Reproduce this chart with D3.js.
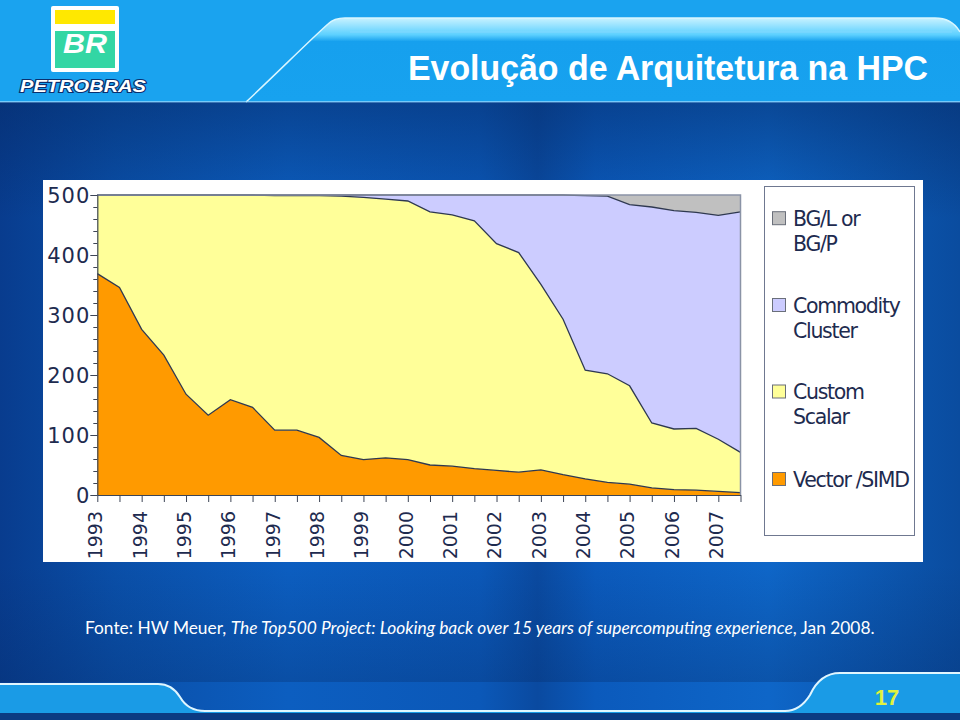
<!DOCTYPE html>
<html><head><meta charset="utf-8">
<script src="https://cdn.jsdelivr.net/npm/d3@7"></script>
<style>html,body{margin:0;padding:0;background:#0a4fa8;} svg{display:block}</style>
</head><body><svg id="c" width="960" height="720"></svg>
<script>
// ---- data (Top500 systems by architecture, June & November lists) ----
const periods = ["1993-06","1993-11","1994-06","1994-11","1995-06","1995-11","1996-06","1996-11",
  "1997-06","1997-11","1998-06","1998-11","1999-06","1999-11","2000-06","2000-11","2001-06","2001-11",
  "2002-06","2002-11","2003-06","2003-11","2004-06","2004-11","2005-06","2005-11","2006-06","2006-11",
  "2007-06","2007-11"];
const yearLabels = ["1993","1994","1995","1996","1997","1998","1999","2000","2001","2002","2003","2004","2005","2006","2007"];
const yTicks = [0,100,200,300,400,500];
const vectorSIMD = [369,346,276,233,168,133,159,146,108,108,96,66,59,62,59,50,48,44,41,38,42,34,27,21,18,12,9,8,6,4];
const customScalar = [131,154,224,267,332,367,341,354,391,391,403,432,437,431,431,422,419,413,378,366,309,259,181,181,164,108,101,103,87,67];
const commodityCluster = [0,0,0,0,0,0,0,0,1,1,1,2,4,7,10,28,33,43,81,96,149,207,291,296,302,360,364,360,373,401];
const bglBgp = [0,0,0,0,0,0,0,0,0,0,0,0,0,0,0,0,0,0,0,0,0,0,1,2,16,20,26,29,34,28];
const seriesKeys = ["vector","custom","commodity","bgl"];
const seriesColors = ["#ff9a00","#ffff99","#ccccff","#c0c0c0"];
const legendLines = [["BG/L or","BG/P"],["Commodity","Cluster"],["Custom","Scalar"],["Vector /SIMD"]];
const legendColors = ["#c0c0c0","#ccccff","#ffff99","#ff9a00"];
const titleText = "Evolução de Arquitetura na HPC";
const pageNumber = "17";

const svg = d3.select("#c");
const defs = svg.append("defs");

// ---- background ----
const bg = defs.append("linearGradient").attr("id","bgH").attr("x1",0).attr("x2",1).attr("y1",0).attr("y2",0);
[[0,"#083c8e"],[0.12,"#0a4fa8"],[0.3,"#0c5ec0"],[0.5,"#0b58b8"],[0.56,"#0a4aa0"],[0.62,"#0b5abc"],[0.8,"#0e66c8"],[1,"#0a4c9f"]]
  .forEach(([o,c])=>bg.append("stop").attr("offset",o).attr("stop-color",c));
svg.append("rect").attr("width",960).attr("height",720).attr("fill","url(#bgH)");
const bgV = defs.append("linearGradient").attr("id","bgV").attr("x1",0).attr("x2",0).attr("y1",0).attr("y2",1);
[[0,"#052a66",0.5],[0.2,"#052a66",0],[0.8,"#052a66",0],[1,"#052a66",0.3]]
  .forEach(([o,c,a])=>bgV.append("stop").attr("offset",o).attr("stop-color",c).attr("stop-opacity",a));
svg.append("rect").attr("y",102).attr("width",960).attr("height",580).attr("fill","url(#bgV)");

// header
svg.append("rect").attr("width",960).attr("height",102).attr("fill","#1aa3ef");
const tabG = defs.append("linearGradient").attr("id","tabG").attr("x1",0).attr("x2",0).attr("y1",0).attr("y2",1);
[[0,"#c8f2ff"],[0.2,"#5cd0ff"],[0.28,"#16a0ee"],[1,"#17a2ef"]]
  .forEach(([o,c])=>tabG.append("stop").attr("offset",o).attr("stop-color",c));
svg.append("path").attr("d","M246,102 C270,80 310,40 328,24 Q334,18 345,18 L935,18 Q952,18 960,32 L960,102 Z")
  .attr("fill","url(#tabG)");
svg.append("path").attr("d","M246,102 C270,80 310,40 328,24 Q334,18 345,18 L935,18 Q952,18 960,32")
  .attr("fill","none").attr("stroke","#d8f6ff").attr("stroke-width",1.5);
svg.append("line").attr("x1",350).attr("x2",952).attr("y1",32).attr("y2",32).attr("stroke","#8fdcff").attr("stroke-width",1).attr("opacity",0.6);
svg.append("rect").attr("y",101).attr("width",960).attr("height",1.5).attr("fill","#9fdcff").attr("opacity",0.7);

// footer band
svg.append("path").attr("d","M0,684 L158,684 Q172,684 180,697 Q188,711 205,711 L785,711 Q800,711 810,695 Q820,673 840,673 L960,673 L960,713 L0,713 Z")
  .attr("fill","#1a9be6");
svg.append("path").attr("d","M0,684 L158,684 Q172,684 180,697 Q188,711 205,711 L785,711 Q800,711 810,695 Q820,673 840,673 L960,673")
  .attr("fill","none").attr("stroke","#e0f6ff").attr("stroke-width",2);
svg.append("rect").attr("y",713).attr("width",960).attr("height",7).attr("fill","#0b3a82");

// logo
const logo = svg.append("g");
logo.append("rect").attr("x",51).attr("y",6).attr("width",68).attr("height",66).attr("rx",2).attr("fill","#ffffff");
logo.append("rect").attr("x",55).attr("y",10).attr("width",60).attr("height",14).attr("fill","#ffe800");
logo.append("rect").attr("x",55).attr("y",31).attr("width",60).attr("height",37).attr("fill","#33d6a4");
logo.append("text").attr("x",63).attr("y",53).attr("font-family","Liberation Sans, Arial, sans-serif")
  .attr("font-weight",900).attr("font-style","italic").attr("font-size",28).attr("fill","#fff")
  .attr("textLength",44).attr("lengthAdjust","spacingAndGlyphs").text("BR");
logo.append("text").attr("x",20).attr("y",92).attr("font-family","Liberation Sans, Arial, sans-serif")
  .attr("font-weight",900).attr("font-style","italic").attr("font-size",17).attr("fill","#fff")
  .attr("stroke","#0a2f6e").attr("stroke-width",2.2).attr("paint-order","stroke")
  .attr("textLength",126).attr("lengthAdjust","spacingAndGlyphs").text("PETROBRAS");

// title
svg.append("text").attr("x",928).attr("y",80).attr("text-anchor","end")
  .attr("font-family","Liberation Sans, Arial, sans-serif").attr("font-weight","bold")
  .attr("font-size",35).attr("fill","#ffffff")
  .attr("textLength",520).attr("lengthAdjust","spacingAndGlyphs").text(titleText);

// ---- chart panel ----
svg.append("rect").attr("x",43).attr("y",180).attr("width",880).attr("height",382).attr("fill","#ffffff");

const x = d3.scalePoint().domain(periods).range([97.3, 740.5]);
const y = d3.scaleLinear().domain([0,500]).range([495,195]);

const rows = periods.map((p,i)=>({period:p, vector:vectorSIMD[i], custom:customScalar[i], commodity:commodityCluster[i], bgl:bglBgp[i]}));
const stacked = d3.stack().keys(seriesKeys)(rows);

const area = d3.area().x(d=>x(d.data.period)).y0(d=>y(d[0])).y1(d=>y(d[1]));
const topLine = d3.line().x(d=>x(d.data.period)).y(d=>y(d[1]));
const plot = svg.append("g");
plot.selectAll("path.a").data(stacked).join("path").attr("class","a")
  .attr("d",area).attr("fill",(d,i)=>seriesColors[i]);
plot.selectAll("path.l").data(stacked.slice(0,3)).join("path").attr("class","l")
  .attr("d",topLine).attr("fill","none").attr("stroke","#2e3850").attr("stroke-width",1.3);

// plot border (top & right)
svg.append("path").attr("d",`M${x(periods[0])},${y(500)} L${x(periods[29])},${y(500)} L${x(periods[29])},${y(0)}`)
  .attr("fill","none").attr("stroke","#8a93a6").attr("stroke-width",1.5);

// y axis
const axisColor = "#3d4556";
const yMinor = svg.append("g").attr("transform",`translate(${x(periods[0])},0)`)
  .call(d3.axisLeft(y).tickValues(d3.range(0,501,20)).tickSize(4).tickFormat(""));
yMinor.select(".domain").remove();
yMinor.selectAll("line").attr("stroke",axisColor);
const yAx = svg.append("g").attr("transform",`translate(${x(periods[0])},0)`)
  .call(d3.axisLeft(y).tickValues(yTicks).tickSize(7).tickPadding(0).tickSizeOuter(0));
yAx.select(".domain").attr("stroke",axisColor).attr("stroke-width",1.2);
yAx.selectAll("line").attr("stroke",axisColor);
yAx.selectAll("text").attr("font-family","DejaVu Sans, sans-serif").attr("font-size",21)
  .attr("letter-spacing",1).attr("fill","#1e2b4f").attr("dy","0.36em");

// x axis
const xAx = svg.append("g").attr("transform",`translate(0,${y(0)})`)
  .call(d3.axisBottom(x).tickSize(7).tickFormat("").tickSizeOuter(0));
xAx.select(".domain").attr("stroke",axisColor).attr("stroke-width",1.2);
xAx.selectAll("line").attr("stroke",axisColor);
svg.append("g").selectAll("text").data(yearLabels).join("text")
  .attr("transform",(d,i)=>`translate(${x(periods[i*2])-2},511) rotate(-90)`)
  .attr("text-anchor","end").attr("dy","0.36em")
  .attr("font-family","DejaVu Sans, sans-serif").attr("font-size",19)
  .attr("fill","#1e2b4f").text(d=>d);

// legend
svg.append("rect").attr("x",764.5).attr("y",186.5).attr("width",150).attr("height",349)
  .attr("fill","#fff").attr("stroke","#6f7890").attr("stroke-width",1);
const legBase = [225.7, 312.5, 399, 486.5];
const lg = svg.append("g").selectAll("g").data(legendLines).join("g")
  .attr("transform",(d,i)=>`translate(0,${legBase[i]})`);
lg.append("rect").attr("x",772.5).attr("y",-14).attr("width",13).attr("height",13)
  .attr("fill",(d,i)=>legendColors[i]).attr("stroke","#6a6f7a").attr("stroke-width",1);
lg.each(function(lines){
  const g=d3.select(this);
  lines.forEach((t,j)=>g.append("text").attr("x",793).attr("y",j*25)
    .attr("font-family","DejaVu Sans, sans-serif").attr("font-size",20.5).attr("letter-spacing",-1.3)
    .attr("fill","#1e2b4f").text(t));
});

// source note
const src = svg.append("text").attr("x",85).attr("y",634).attr("font-family","Lato, sans-serif")
  .attr("font-size",16).attr("fill","#ffffff");
src.append("tspan").text("Fonte: HW Meuer, ");
src.append("tspan").attr("font-style","italic").text("The Top500 Project: Looking back over 15 years of supercomputing experience");
src.append("tspan").text(", Jan 2008.");
(function(){const l=src.node().getComputedTextLength(); src.attr("font-size",16*790/l);})();

// page number
svg.append("text").attr("x",887).attr("y",705).attr("text-anchor","middle")
  .attr("font-family","Liberation Sans Narrow, Liberation Sans, Arial, sans-serif").attr("font-weight","bold")
  .attr("font-size",22).attr("fill","#e2f23c").text(pageNumber);
</script></body></html>
